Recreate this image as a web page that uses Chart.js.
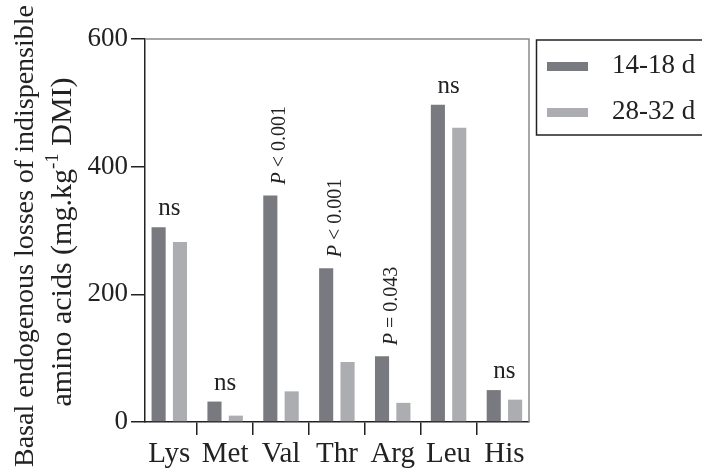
<!DOCTYPE html>
<html>
<head>
<meta charset="utf-8">
<script src="https://cdn.jsdelivr.net/npm/chart.js@4/dist/chart.umd.min.js"></script>
<style>
  html, body { margin: 0; padding: 0; background: #fff; }
  #wrap { width: 702px; height: 473px; }
</style>
</head>
<body>
<div id="wrap"><canvas id="chart" width="702" height="473"></canvas></div>
<script>
/* =========================
   DATA
========================= */

const aminoAcids = ["Lys", "Met", "Val", "Thr", "Arg", "Leu", "His"];
const days14to18 = [305, 32, 355, 241, 103, 497, 50];
const days28to32 = [282, 10, 48, 94, 30, 461, 35];
const seriesNames = ["14-18 d", "28-32 d"];
const annotations = ["ns", "ns", "P < 0.001", "P < 0.001", "P = 0.043", "ns", "ns"];
const yTicks = [0, 200, 400, 600];

const serif = "'Liberation Serif', 'DejaVu Serif', serif";
const darkGrey = "#797a7f";
const lightGrey = "#acadb1";
const ink = "#222";

/* =========================
   PLUGINS
========================= */

// top + right border of the plot box
const plotBox = {
  id: "plotBox",
  afterDraw(chart) {
    const { ctx, chartArea: a } = chart;
    ctx.save();
    ctx.strokeStyle = "#8a8a8a";
    ctx.lineWidth = 1.5;
    ctx.beginPath();
    ctx.moveTo(a.left, a.top);
    ctx.lineTo(a.right, a.top);
    ctx.lineTo(a.right, a.bottom);
    ctx.stroke();
    ctx.restore();
  }
};

// "ns" / P-value labels above each group
const groupLabels = {
  id: "groupLabels",
  afterDatasetsDraw(chart) {
    const { ctx, scales } = chart;
    ctx.save();
    ctx.fillStyle = ink;
    annotations.forEach((txt, i) => {
      const top = Math.max(days14to18[i], days28to32[i]);
      const x = scales.x.getPixelForValue(i);
      const y = scales.y.getPixelForValue(top);
      if (txt.startsWith("P")) {
        ctx.save();
        ctx.translate(x - 1, y - 11);
        ctx.rotate(-Math.PI / 2);
        ctx.textBaseline = "middle";
        ctx.textAlign = "left";
        ctx.font = "italic 20px " + serif;
        ctx.fillText("P", 0, 0);
        const w = ctx.measureText("P").width;
        ctx.font = "20px " + serif;
        ctx.fillText(txt.slice(1), w, 0);
        ctx.restore();
      } else {
        ctx.font = "25px " + serif;
        ctx.textAlign = "center";
        ctx.textBaseline = "alphabetic";
        ctx.fillText(txt, x, y - 12);
      }
    });
    ctx.restore();
  }
};

// two-line rotated y title with superscript
const yTitle = {
  id: "yTitle",
  afterDraw(chart) {
    const { ctx } = chart;
    ctx.save();
    ctx.fillStyle = ink;
    ctx.textBaseline = "alphabetic";

    // line 1 (nearly full height, like the original)
    ctx.save();
    ctx.translate(33, 467);
    ctx.rotate(-Math.PI / 2);
    ctx.font = "28px " + serif;
    ctx.textAlign = "left";
    ctx.fillText("Basal endogenous losses of indispensible", 0, 0);
    ctx.restore();

    // line 2
    const parts = [
      { t: "amino acids (mg.kg", f: "30px " + serif, dy: 0 },
      { t: "-1", f: "19px " + serif, dy: -13 },
      { t: " DMI)", f: "30px " + serif, dy: 0 }
    ];
    let total = 0;
    parts.forEach(p => { ctx.font = p.f; p.w = ctx.measureText(p.t).width; total += p.w; });
    ctx.save();
    ctx.translate(71, 242);
    ctx.rotate(-Math.PI / 2);
    ctx.textAlign = "left";
    let px = -total / 2;
    parts.forEach(p => {
      ctx.font = p.f;
      ctx.fillText(p.t, px, p.dy);
      px += p.w;
    });
    ctx.restore();
    ctx.restore();
  }
};

// legend box on the right
const legendBox = {
  id: "legendBox",
  afterDraw(chart) {
    const { ctx } = chart;
    ctx.save();
    ctx.strokeStyle = ink;
    ctx.lineWidth = 1.5;
    ctx.strokeRect(536.5, 40, 180, 95);
    chart.data.datasets.forEach((ds, i) => {
      const cy = 66.5 + i * 46;
      ctx.fillStyle = ds.backgroundColor;
      ctx.fillRect(547, cy - 4.5, 41, 9);
      ctx.fillStyle = ink;
      ctx.font = "27px " + serif;
      ctx.textAlign = "left";
      ctx.textBaseline = "alphabetic";
      ctx.fillText(ds.label, 612, cy + 6);
    });
    ctx.restore();
  }
};

/* =========================
   CHART
========================= */

const toPoints = arr => arr.map((v, i) => ({ x: i, y: v }));

new Chart(document.getElementById("chart"), {
  type: "bar",
  data: {
    datasets: [
      {
        label: seriesNames[0],
        data: toPoints(days14to18),
        backgroundColor: darkGrey,
        borderWidth: 0,
        categoryPercentage: 0.765,
        barPercentage: 0.66
      },
      {
        label: seriesNames[1],
        data: toPoints(days28to32),
        backgroundColor: lightGrey,
        borderWidth: 0,
        categoryPercentage: 0.765,
        barPercentage: 0.66
      }
    ]
  },
  options: {
    responsive: false,
    animation: false,
    layout: { padding: { left: 0, top: 39, right: 173, bottom: 0 } },
    plugins: {
      legend: { display: false },
      tooltip: { enabled: false }
    },
    scales: {
      x: {
        type: "linear",
        min: -0.435,
        max: 6.44,
        offset: false,
        afterBuildTicks: axis => {
          axis.ticks = aminoAcids.map((_, i) => ({ value: i }));
        },
        afterFit: axis => { axis.height = 51; },
        ticks: {
          callback: v => aminoAcids[v] ?? "",
          font: { family: serif, size: 29 },
          color: ink,
          padding: 2,
          maxRotation: 0,
          autoSkip: false
        },
        grid: {
          display: true,
          drawOnChartArea: false,
          drawTicks: true,
          tickLength: 13,
          color: ink,
          lineWidth: 1.5
        },
        border: { display: true, color: ink, width: 1.5 }
      },
      y: {
        min: 0,
        max: 600,
        afterBuildTicks: axis => {
          axis.ticks = yTicks.map(v => ({ value: v }));
        },
        afterFit: axis => { axis.width = 145; },
        ticks: {
          font: { family: serif, size: 27 },
          color: ink,
          padding: 3
        },
        grid: {
          display: true,
          drawOnChartArea: false,
          drawTicks: true,
          tickLength: 14,
          color: ink,
          lineWidth: 1.5
        },
        border: { display: true, color: ink, width: 1.5 }
      }
    }
  },
  plugins: [plotBox, groupLabels, yTitle, legendBox]
});
</script>
</body>
</html>
